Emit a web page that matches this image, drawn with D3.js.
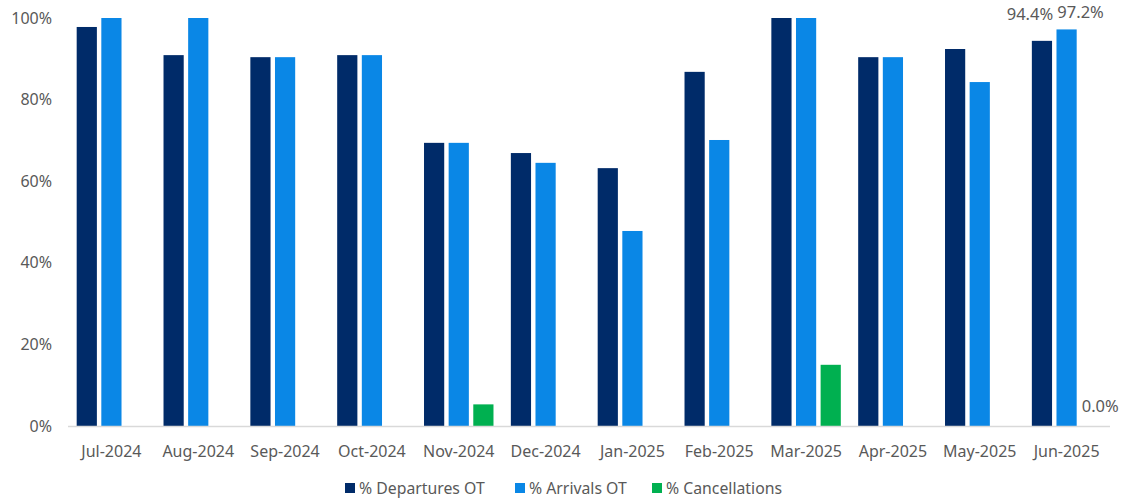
<!DOCTYPE html>
<html><head><meta charset="utf-8">
<script src="https://cdn.jsdelivr.net/npm/d3@7"></script>
<style>body{margin:0;background:#fff}svg{display:block}text{font-family:"Noto Sans",sans-serif}</style>
</head><body><svg id="c" width="1124" height="501"></svg>
<script>
const months = ["Jul-2024","Aug-2024","Sep-2024","Oct-2024","Nov-2024","Dec-2024","Jan-2025","Feb-2025","Mar-2025","Apr-2025","May-2025","Jun-2025"];
const departures = [97.8,90.9,90.4,90.9,69.4,66.9,63.2,86.8,100,90.4,92.4,94.4];
const arrivals = [100,100,90.4,90.9,69.4,64.5,47.8,70.1,100,90.4,84.3,97.2];
const cancellations = [0,0,0,0,5.3,0,0,0,15.0,0,0,0];
const seriesNames = ["% Departures OT","% Arrivals OT","% Cancellations"];
const colors = ["#002b69","#0a87e6","#00b050"];
const yTicks = [0,20,40,60,80,100];

const svg = d3.select("#c");
const mLeft = 68, mRight = 1110, mTop = 18, mBottom = 426;
const x = d3.scaleBand().domain(months).range([mLeft, mRight]).paddingInner(0.2).paddingOuter(0.1);
const xi = d3.scaleBand().domain([0,1,2]).range([0, x.bandwidth()]).paddingInner(0.18);
const y = d3.scaleLinear().domain([0,100]).range([mBottom, mTop]);

const series = [departures, arrivals, cancellations];
series.forEach((vals, s) => {
  svg.append("g").selectAll("rect").data(vals).join("rect")
    .attr("x", (d,i) => x(months[i]) + xi(s))
    .attr("width", xi.bandwidth())
    .attr("y", d => y(d))
    .attr("height", d => mBottom - y(d))
    .attr("fill", colors[s]);
});

svg.append("line").attr("x1", mLeft).attr("x2", mRight).attr("y1", mBottom+0.5).attr("y2", mBottom+0.5)
  .attr("stroke", "#d9d9d9").attr("stroke-width", 1.5);

svg.append("g").selectAll("text").data(yTicks).join("text")
  .attr("x", 52).attr("y", d => y(d)).attr("dy", "0.35em")
  .attr("text-anchor", "end").attr("fill", "#595959").attr("font-size", 16)
  .text(d => d + "%");

svg.append("g").selectAll("text").data(months).join("text")
  .attr("x", d => x(d) + x.bandwidth()/2).attr("y", 451).attr("dy", "0.35em")
  .attr("text-anchor", "middle").attr("fill", "#595959").attr("font-size", 16)
  .text(d => d);

// data labels on last group (offsets avoid overlap, as in the reference)
const li = months.length - 1;
const lblDx = [-12, 14, 9];
const lblDy = [-21, -11, -14];
series.forEach((vals, s) => {
  const v = vals[li];
  svg.append("text")
    .attr("x", x(months[li]) + xi(s) + xi.bandwidth()/2 + lblDx[s])
    .attr("y", y(v) + lblDy[s])
    .attr("text-anchor", "middle").attr("fill", "#595959").attr("font-size", 16.5)
    .text(v.toFixed(1) + "%");
});

const legX = [345, 515, 652];
const lg = svg.append("g");
seriesNames.forEach((n, i) => {
  lg.append("rect").attr("x", legX[i]).attr("y", 483).attr("width", 10).attr("height", 10).attr("fill", colors[i]);
  lg.append("text").attr("x", legX[i] + 14).attr("y", 488).attr("dy", "0.35em")
    .attr("fill", "#595959").attr("font-size", 15.8).text(n);
});
</script></body></html>
